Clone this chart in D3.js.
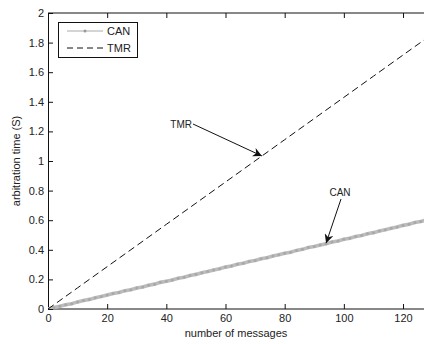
<!DOCTYPE html>
<html><head><meta charset="utf-8">
<script src="https://d3js.org/d3.v7.min.js"></script>
<style>
body{margin:0;background:#fff;}
text{font-family:"Liberation Sans",Arial,sans-serif;}
</style></head>
<body>
<script>
const messagesCAN = [0,2,4,6,8,10,12,14,16,18,20,22,24,26,28,30,32,34,36,38,40,42,44,46,48,50,52,54,56,58,60,62,64,66,68,70,72,74,76,78,80,82,84,86,88,90,92,94,96,98,100,102,104,106,108,110,112,114,116,118,120,122,124,126,128,130,132,134,136,138,140];
const timeCAN = [0,0.010,0.018,0.029,0.036,0.048,0.057,0.065,0.076,0.084,0.094,0.105,0.111,0.124,0.130,0.142,0.149,0.161,0.168,0.180,0.188,0.196,0.208,0.215,0.227,0.234,0.245,0.253,0.264,0.272,0.283,0.290,0.302,0.309,0.321,0.328,0.339,0.347,0.358,0.366,0.377,0.384,0.396,0.403,0.415,0.422,0.433,0.441,0.452,0.460,0.471,0.478,0.490,0.497,0.509,0.516,0.527,0.535,0.546,0.554,0.565,0.572,0.584,0.591,0.603,0.610,0.620,0.629,0.639,0.648,0.658];
const messagesTMR = [0,10,20,30,40,50,60,70,80,90,100,110,120,130,140];
const timeTMR = [0,0.143,0.286,0.429,0.572,0.715,0.858,1.001,1.144,1.287,1.430,1.573,1.716,1.859,2.002];
const xTicks = [0,20,40,60,80,100,120];
const yTicks = [0,0.2,0.4,0.6,0.8,1,1.2,1.4,1.6,1.8,2];
const legendLabels = ["CAN","TMR"];

const W=424,H=344;
const svg=d3.select("body").append("svg").attr("width",W).attr("height",H);
const x=d3.scaleLinear().domain([0,140]).range([48,462.2]);
const y=d3.scaleLinear().domain([0,2]).range([309,13]);

svg.append("defs").append("clipPath").attr("id","clip")
  .append("rect").attr("x",48).attr("y",13).attr("width",462-48).attr("height",296);

const fmt=d=>String(+d.toFixed(1));
// axes
const ax=svg.append("g").attr("transform","translate(0,309)")
  .call(d3.axisBottom(x).tickValues(xTicks).tickSize(-5).tickPadding(5).tickFormat(d3.format("d")));
ax.select("path.domain").attr("d","M48,0H462");
const ay=svg.append("g").attr("transform","translate(48,0)")
  .call(d3.axisLeft(y).tickValues(yTicks).tickSize(-5).tickPadding(4).tickFormat(fmt));
const axt=svg.append("g").attr("transform","translate(0,13)")
  .call(d3.axisTop(x).tickValues(xTicks).tickSize(-5).tickFormat(""));
axt.select("path.domain").attr("d","M48,0H462");
[ax,ay,axt].forEach(g=>{
  g.selectAll("path.domain").attr("stroke","#111").attr("stroke-width",1);
  g.selectAll(".tick line").attr("stroke","#111");
  g.selectAll("text").attr("font-size",11).attr("fill","#222").attr("font-family","'Liberation Sans',Arial,sans-serif");
});

const plot=svg.append("g").attr("clip-path","url(#clip)");
const lineCAN=d3.line().x((d,i)=>x(messagesCAN[i])).y(d=>y(d));
plot.append("path").datum(timeCAN).attr("d",lineCAN)
  .attr("fill","none").attr("stroke","#bcbcbc").attr("stroke-width",3.6);
plot.selectAll("circle.m").data(timeCAN).enter().append("circle")
  .attr("cx",(d,i)=>x(messagesCAN[i])).attr("cy",d=>y(d)).attr("r",1.5)
  .attr("fill","#a8a8a8");
const lineTMR=d3.line().x((d,i)=>x(messagesTMR[i])).y(d=>y(d));
plot.append("path").datum(timeTMR).attr("d",lineTMR)
  .attr("fill","none").attr("stroke","#111").attr("stroke-width",1).attr("stroke-dasharray","7,4");

// legend
const lg=svg.append("g");
lg.append("rect").attr("x",58.5).attr("y",22.5).attr("width",79).attr("height",35)
  .attr("fill","#fff").attr("stroke","#111");
lg.append("line").attr("x1",67).attr("x2",103).attr("y1",31).attr("y2",31).attr("stroke","#aaa").attr("stroke-width",1);
lg.append("circle").attr("cx",85).attr("cy",31).attr("r",1.5).attr("fill","#999");
lg.append("line").attr("x1",67).attr("x2",103).attr("y1",48).attr("y2",48).attr("stroke","#111").attr("stroke-dasharray","6,4");
lg.selectAll("text.l").data(legendLabels).enter().append("text")
  .attr("x",107).attr("y",(d,i)=>35+i*17).attr("font-size",11).attr("fill","#222").text(d=>d);

// annotations
const mk=svg.append("defs").append("marker").attr("id","ah").attr("viewBox","0 0 10 10")
  .attr("refX",10).attr("refY",5).attr("markerWidth",9).attr("markerHeight",9).attr("orient","auto")
  .attr("markerUnits","userSpaceOnUse");
mk.append("path").attr("d","M0,0 L10,5 L0,10 L3,5 Z").attr("fill","#111");
svg.append("line").attr("x1",193).attr("y1",124).attr("x2",x(72.3)).attr("y2",y(1.034))
  .attr("stroke","#111").attr("stroke-width",1).attr("marker-end","url(#ah)");
svg.append("text").attr("x",192).attr("y",128).attr("text-anchor","end").attr("font-size",10).attr("fill","#222").text("TMR");
svg.append("line").attr("x1",341).attr("y1",199).attr("x2",x(94)).attr("y2",y(0.445))
  .attr("stroke","#111").attr("stroke-width",1).attr("marker-end","url(#ah)");
svg.append("text").attr("x",340).attr("y",196).attr("text-anchor","middle").attr("font-size",10).attr("fill","#222").text("CAN");

// axis labels
svg.append("text").attr("x",236).attr("y",337).attr("text-anchor","middle").attr("font-size",11).attr("fill","#222").text("number of messages");
svg.append("text").attr("transform","translate(20,161) rotate(-90)").attr("text-anchor","middle").attr("font-size",11).attr("fill","#222").text("arbitration time (S)");
</script>
</body></html>
